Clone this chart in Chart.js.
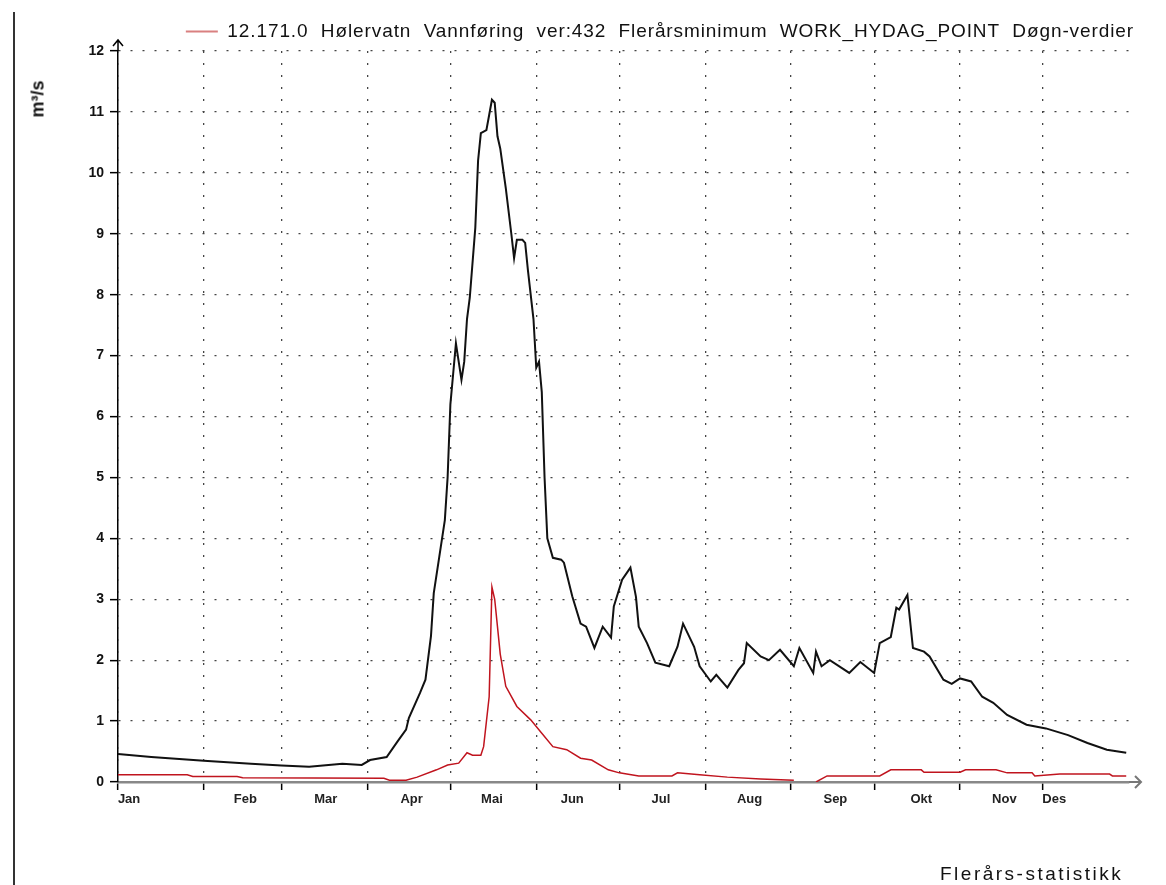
<!DOCTYPE html>
<html><head><meta charset="utf-8">
<script src="https://cdn.jsdelivr.net/npm/chart.js@4.4.1/dist/chart.umd.min.js"></script>
<style>
html,body{margin:0;padding:0;background:#fff;}
#wrap{position:relative;width:1166px;height:885px;overflow:hidden;}
#leftline{position:absolute;left:13px;top:12px;width:2px;height:873px;background:#333;}
#ytitle{position:absolute;left:38px;top:99px;transform:translate(-50%,-50%) rotate(-90deg);font:bold 18px "Liberation Sans",Arial,sans-serif;color:#111;white-space:nowrap;}
#foot{position:absolute;left:940px;top:863px;font:19px "Liberation Sans",Arial,sans-serif;letter-spacing:2.5px;color:#111;white-space:nowrap;}
</style></head><body>
<div id="wrap"><canvas id="c"></canvas><div id="leftline"></div><div id="ytitle">m³/s</div><div id="foot">Flerårs-statistikk</div></div>
<script>
const monthNames = ['Jan','Feb','Mar','Apr','Mai','Jun','Jul','Aug','Sep','Okt','Nov','Des'];
const monthStarts = [0,31,59,90,120,151,181,212,243,273,304,334];
const labelDays = [4,46,75,106,135,164,196,228,259,290,320,338];
const yTicks = [0,1,2,3,4,5,6,7,8,9,10,11,12];

const blackDays = [0,12,31,48,59,69,81,88,91,97,
101,104,105,109,111,113,114,116,118,119,
120,121,122,123,124,125,126,127,129,130,
131,133,134,135,136,137,138,140,142,143,
144,146,147,148,150,151,152,153,154,155,
157,160,161,164,167,169,172,175,178,179,
182,185,187,188,191,194,199,202,204,208,
210,214,216,220,224,226,227,232,235,239,
244,246,251,252,254,257,264,268,273,275,
279,281,282,285,287,291,293,298,301,304,
308,312,316,321,328,335,343,350,357,364];
const blackVals = [0.46,0.41,0.35,0.30,0.27,0.25,0.30,0.28,0.36,0.41,
0.67,0.86,1.05,1.46,1.68,2.4,3.1,3.7,4.3,5.0,
6.2,6.7,7.2,6.9,6.6,6.9,7.6,7.95,9.1,10.2,
10.65,10.7,10.95,11.2,11.15,10.6,10.4,9.75,9.0,8.6,
8.9,8.9,8.85,8.4,7.6,6.8,6.9,6.4,5.0,4.0,
3.68,3.65,3.6,3.05,2.6,2.55,2.2,2.55,2.37,2.88,
3.32,3.52,3.04,2.55,2.28,1.96,1.9,2.22,2.6,2.22,
1.9,1.65,1.76,1.55,1.84,1.95,2.28,2.06,2.0,2.17,
1.9,2.2,1.79,2.14,1.9,2.0,1.79,1.97,1.79,2.28,
2.38,2.86,2.83,3.07,2.2,2.14,2.06,1.68,1.61,1.7,
1.65,1.4,1.3,1.1,0.94,0.88,0.77,0.64,0.53,0.48];

const redDays = [0,25,27,43,45,96,98,104,108,115,
119,123,126,128,131,132,134,135,136,137,
138,140,144,149,153,157,162,167,171,177,
181,188,200,202,210,220,232,244,248,252,
256,275,279,290,291,304,306,317,321,330,
331,340,358,359,364];
const redVals = [0.12,0.12,0.09,0.09,0.07,0.06,0.03,0.03,0.08,0.2,
0.28,0.31,0.48,0.44,0.44,0.58,1.4,3.2,3.0,2.55,
2.1,1.57,1.24,1.02,0.8,0.58,0.53,0.39,0.36,0.2,
0.15,0.1,0.1,0.15,0.12,0.08,0.05,0.03,null,0.0,
0.1,0.1,0.2,0.2,0.16,0.16,0.2,0.2,0.15,0.15,
0.1,0.13,0.13,0.1,0.1];

const legendText = '12.171.0  Hølervatn  Vannføring  ver:432  Flerårsminimum  WORK_HYDAG_POINT  Døgn-verdier';

Chart.defaults.font.family = '"Liberation Sans", Arial, sans-serif';
Chart.defaults.color = '#111';

// loose letter spacing for the legend text, as in the reference
const LegendEl = Chart.registry.getPlugin('legend')._element;
if (LegendEl) {
  const origFit = LegendEl.prototype.fit, origDraw = LegendEl.prototype.draw;
  LegendEl.prototype.fit = function () { const c = this.ctx; c.save(); c.letterSpacing = '0.9px'; origFit.call(this); c.restore(); };
  LegendEl.prototype.draw = function () { const c = this.ctx; c.save(); c.letterSpacing = '0.9px'; origDraw.call(this); c.restore(); };
}

const arrows = {
  id: 'arrows',
  afterDraw(chart) {
    const {ctx, chartArea: a} = chart;
    ctx.save();
    ctx.strokeStyle = '#000'; ctx.lineWidth = 1.5;
    ctx.beginPath();
    ctx.moveTo(a.left, a.top); ctx.lineTo(a.left, a.top - 11);
    ctx.moveTo(a.left - 5, a.top - 5); ctx.lineTo(a.left, a.top - 11); ctx.lineTo(a.left + 5, a.top - 5);
    ctx.stroke();
    ctx.strokeStyle = '#777'; ctx.lineWidth = 2;
    ctx.beginPath();
    ctx.moveTo(a.right, a.bottom); ctx.lineTo(a.right + 12, a.bottom);
    ctx.moveTo(a.right + 6, a.bottom - 6); ctx.lineTo(a.right + 12, a.bottom); ctx.lineTo(a.right + 6, a.bottom + 6);
    ctx.stroke();
    ctx.restore();
  }
};

new Chart(document.getElementById('c'), {
  type: 'line',
  data: {
    datasets: [
      {
        label: 'Flerårsmiddel',
        data: blackDays.map((d, i) => ({x: d, y: blackVals[i]})),
        borderColor: '#111', backgroundColor: '#111',
        borderWidth: 2, pointRadius: 0, tension: 0
      },
      {
        label: legendText,
        data: redDays.map((d, i) => ({x: d, y: redVals[i]})),
        borderColor: '#c0141e', backgroundColor: '#c0141e',
        borderWidth: 1.5, pointRadius: 0, tension: 0, spanGaps: false
      }
    ]
  },
  options: {
    responsive: true, maintainAspectRatio: false, animation: false,
    layout: {padding: {top: 7, right: 17, left: 0, bottom: 0}},
    plugins: {
      tooltip: {enabled: false},
      legend: {
        position: 'top', align: 'end',
        labels: {
          font: {size: 19}, color: '#111', padding: 15, boxWidth: 32, boxHeight: 2,
          generateLabels(chart) {
            return Chart.defaults.plugins.legend.labels.generateLabels(chart)
              .filter(l => l.datasetIndex === 1)
              .map(l => Object.assign(l, {fillStyle: '#d98080', strokeStyle: '#d98080', lineWidth: 0}));
          }
        }
      }
    },
    scales: {
      x: {
        type: 'linear', min: 0, max: 365,
        afterBuildTicks(s) { s.ticks = monthStarts.map(v => ({value: v})); },
        ticks: {display: false},
        grid: {color: '#444', lineWidth: 1.3, tickLength: 8, tickColor: '#000', tickWidth: 1.5, tickBorderDash: []},
        border: {display: true, color: '#888', width: 2.5, dash: [2, 10]}
      },
      xl: {
        type: 'linear', position: 'bottom', min: 0, max: 365,
        afterBuildTicks(s) { s.ticks = labelDays.map(v => ({value: v})); },
        afterFit(s) { s.height = 95; },
        ticks: {autoSkip: false, maxRotation: 0, padding: 2, font: {size: 13, weight: 'bold'}, color: '#222',
          callback: (v, i) => monthNames[i]},
        grid: {display: false, drawTicks: false},
        border: {display: false}
      },
      y: {
        type: 'linear', min: 0, max: 12,
        afterBuildTicks(s) { s.ticks = yTicks.map(v => ({value: v})); },
        afterFit(s) { s.width = 118; },
        ticks: {padding: 6, font: {size: 14, weight: 'bold'}, color: '#111'},
        grid: {color: '#444', lineWidth: 1.3, tickLength: 8, tickColor: '#000', tickWidth: 1.5, tickBorderDash: []},
        border: {display: true, color: '#000', width: 1.5, dash: [2, 10]}
      },
      yr: {
        type: 'linear', position: 'right', min: 0, max: 12,
        afterFit(s) { s.width = 20; },
        ticks: {display: false},
        grid: {display: false, drawTicks: false},
        border: {display: false}
      }
    }
  },
  plugins: [arrows]
});
</script>
</body></html>
